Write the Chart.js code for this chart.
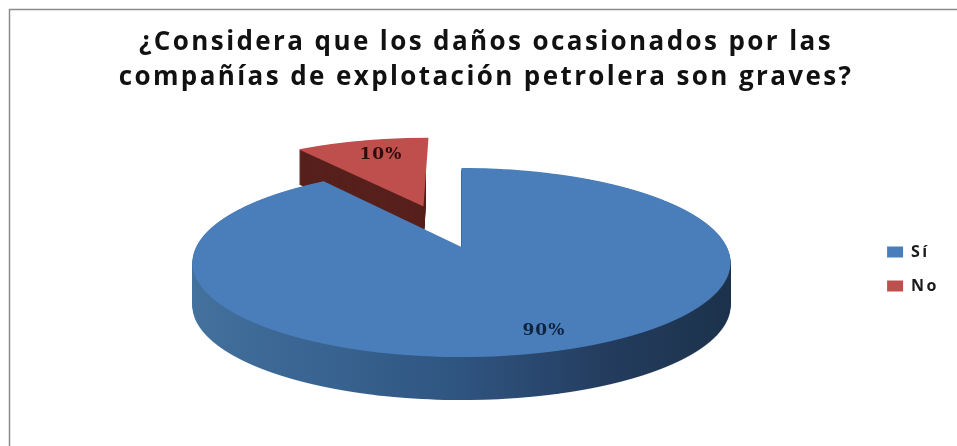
<!DOCTYPE html>
<html>
<head>
<meta charset="utf-8">
<style>body{margin:0;background:#fff}canvas{display:block;filter:blur(0.4px)}</style>
<script src="https://cdn.jsdelivr.net/npm/chart.js@4"></script>
</head>
<body>
<canvas id="pieChart" width="957" height="446"></canvas>
<script>
const categories = ['Sí', 'No'];
const percentages = [90, 10];
const titleLines = ['¿Considera que los daños ocasionados por las', 'compañías de explotación petrolera son graves?'];

const topColors = ['#4a7ebb', '#be4f4c'];

// tilted pie look: the arcs are drawn strip by strip through a perspective map
const apexX = 461.5, apexY = 247;
const persA = -0.164, persB = 92, persK = 265.4;
const explodeBy = [0, 0.5];
const depths = [43, 35];
const labelSpots = [[0.27, 0.794], [-0.364, -1.21]];

function planeStrip(y) {
    const v = y / (persB - persA * y);
    const w = 1 + persA * v;
    return { v: v, sx: persK / w, sy: persB / (w * w) };
}

function drawPlane(ctx, arc, R, index, dy, options) {
    const mid = (arc.startAngle + arc.endAngle) / 2;
    const du = Math.cos(mid) * explodeBy[index];
    const dv = Math.sin(mid) * explodeBy[index];
    const piece = Object.create(arc);
    piece.options = options;
    for (let y = -118; y < 118; y++) {
        const s = planeStrip(y + 0.5);
        ctx.save();
        ctx.beginPath();
        ctx.rect(0, apexY + y + dy, index === 1 && dy > 0 ? 425.5 : 957, 1);
        ctx.clip();
        // pie plane -> screen for this one pixel row
        ctx.translate(apexX, apexY + y + 0.5 + dy);
        ctx.scale(s.sx / R, s.sy / R);
        ctx.translate(du * R, (dv - s.v) * R);
        ctx.translate(-arc.x, -arc.y);
        piece.draw(ctx);
        ctx.restore();
    }
}

const tiltedPie = {
    id: 'tiltedPie',
    beforeDraw(chart) {
        const ctx = chart.ctx;
        ctx.strokeStyle = '#8c8c8c';
        ctx.lineWidth = 1.5;
        ctx.beginPath();
        ctx.moveTo(9.5, 446);
        ctx.lineTo(9.5, 9.5);
        ctx.lineTo(957, 9.5);
        ctx.stroke();
        // title and legend are wide set in the picture
        ctx.letterSpacing = '2.4px';
    },
    beforeDatasetsDraw(chart) {
        const ctx = chart.ctx;
        ctx.letterSpacing = '0px';
        const arcs = chart.getDatasetMeta(0).data;
        const R = arcs[0].outerRadius;

        // side walls first, back slice before front slice
        const side = ctx.createLinearGradient(arcs[0].x - R, 0, arcs[0].x + R, 0);
        side.addColorStop(0, '#44729f');
        side.addColorStop(0.3, '#38628f');
        side.addColorStop(0.5, '#2f5480');
        side.addColorStop(0.75, '#233b5c');
        side.addColorStop(1, '#1b3149');
        const sideFills = [side, '#57201c'];

        [1, 0].forEach(i => {
            const opts = { ...arcs[i].options, backgroundColor: sideFills[i], borderWidth: 0 };
            for (let d = depths[i]; d > 0; d -= 1) {
                drawPlane(ctx, arcs[i], R, i, d, opts);
            }
            drawPlane(ctx, arcs[i], R, i, 0, { ...arcs[i].options, borderWidth: 0 });
        });

        // percentage labels
        ctx.save();
        ctx.font = 'bold 17px "DejaVu Serif"';
        ctx.letterSpacing = '1px';
        ctx.textAlign = 'center';
        ctx.textBaseline = 'middle';
        const colors = ['#10233f', '#2c0d0d'];
        percentages.forEach((p, i) => {
            const u = labelSpots[i][0], v = labelSpots[i][1];
            const w = 1 + persA * v;
            ctx.fillStyle = colors[i];
            ctx.fillText(p + '%', apexX + persK * u / w, apexY + persB * v / w);
        });
        ctx.restore();
        return false;
    }
};

new Chart(document.getElementById('pieChart'), {
    type: 'pie',
    data: {
        labels: categories,
        datasets: [{
            data: percentages,
            backgroundColor: topColors,
            borderWidth: 0
        }]
    },
    plugins: [tiltedPie],
    options: {
        responsive: false,
        animation: false,
        layout: { padding: { left: 28, right: 13, bottom: 134 } },
        plugins: {
            tooltip: { enabled: false },
            title: {
                display: true,
                text: titleLines,
                color: '#111',
                font: { family: '"Open Sans"', size: 26, weight: 'bold', lineHeight: 1.34 },
                padding: { top: 25, bottom: 10 }
            },
            legend: {
                position: 'right',
                align: 'end',
                labels: {
                    boxWidth: 16,
                    boxHeight: 11,
                    padding: 18,
                    color: '#1a1a1a',
                    font: { family: '"Open Sans"', size: 16, weight: 'bold' }
                }
            }
        }
    }
});
</script>
</body>
</html>
